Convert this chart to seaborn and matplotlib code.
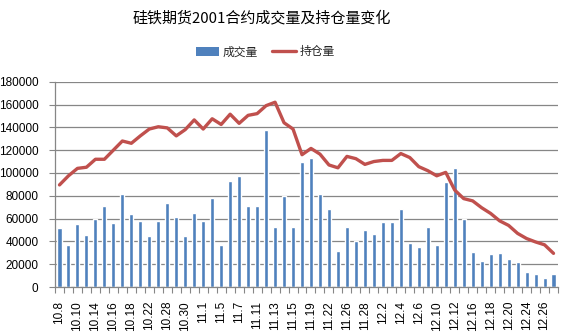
import numpy as np
import pandas as pd
import matplotlib
matplotlib.use("Agg")
import matplotlib.pyplot as plt
from matplotlib.patches import Patch
from matplotlib.lines import Line2D
import seaborn as sns

# Trading days of the 2001 ferrosilicon contract
dates = ["10.8", "10.9", "10.10", "10.11", "10.14", "10.15", "10.16", "10.17",
         "10.18", "10.21", "10.22", "10.24", "10.28", "10.29", "10.30", "10.31",
         "11.1", "11.4", "11.5", "11.6", "11.7", "11.8", "11.11", "11.12",
         "11.13", "11.14", "11.15", "11.18", "11.19", "11.21", "11.22", "11.25",
         "11.26", "11.27", "11.28", "11.29", "12.2", "12.3", "12.4", "12.5",
         "12.6", "12.9", "12.10", "12.11", "12.12", "12.13", "12.16", "12.17",
         "12.18", "12.19", "12.20", "12.23", "12.24", "12.25", "12.26", "12.27"]

# Daily trading volume (成交量)
volume = [52000, 37000, 55000, 46000, 59500, 71000, 56000, 81500,
          64000, 58000, 45000, 58000, 73500, 61500, 45000, 65000,
          58000, 78000, 37000, 93000, 97000, 71000, 71000, 137500,
          52500, 79500, 52500, 109500, 113000, 81500, 68500, 31500,
          52500, 40000, 50000, 46500, 57000, 57000, 68500, 38500,
          35000, 52500, 37000, 92000, 104500, 59500, 30500, 23000,
          29000, 30000, 24500, 22000, 13500, 11500, 8000, 11500]

# Open interest (持仓量)
open_interest = [89500, 97500, 104000, 105000, 112000, 112000, 120000, 128000,
                 126000, 132500, 138500, 140500, 139500, 132500, 138000, 146500,
                 138500, 147500, 142500, 151500, 143500, 150500, 152000, 159000,
                 162000, 144000, 138500, 116000, 121500, 116500, 107000, 104500,
                 114500, 112500, 107500, 110000, 111000, 111000, 117000, 113500,
                 105500, 102000, 97500, 100500, 85000, 77500, 75500, 69500,
                 64500, 58000, 54000, 47000, 42500, 39500, 37000, 29500]

ytick_values = list(range(0, 180001, 20000))

df = pd.DataFrame({"date": dates, "volume": volume, "oi": open_interest})

sns.set_theme(style="white")
plt.rcParams["font.family"] = ["Liberation Sans", "Noto Sans CJK SC", "DejaVu Sans"]

BLUE = "#4F81BD"
RED = "#C0504D"
GRAY = "#868686"

fig = plt.figure(figsize=(5.64, 3.34), dpi=100)
ax = fig.add_axes([55 / 564, 1 - 287 / 334, 503 / 564, (287 - 81.7) / 334])

sns.barplot(data=df, x="date", y="volume", order=dates, color=BLUE,
            saturation=1, width=0.45, ax=ax, zorder=2)
sns.lineplot(x=np.arange(len(dates)), y=df["oi"], sort=False, color=RED,
             linewidth=2.4, ax=ax, zorder=3)

ax.set_xlim(-0.5, len(dates) - 0.5)
ax.set_ylim(0, 180000)
ax.set_yticks(ytick_values)
ax.set_yticklabels([str(v) for v in ytick_values], fontsize=8.5, color="black")

pos = np.arange(len(dates))
ax.set_xticks(pos)
ax.set_xticklabels([d if i % 2 == 0 else "" for i, d in enumerate(dates)],
                   rotation=90, fontsize=8.5, color="black", va="top", ha="center")
ax.set_xticks(np.arange(-0.5, len(dates), 1), minor=True)
ax.tick_params(axis="x", which="major", length=0, pad=10)
ax.tick_params(axis="x", which="minor", length=4, color=GRAY, width=0.8,
               direction="out", bottom=True)
ax.tick_params(axis="y", which="major", length=4, color=GRAY, width=0.8,
               direction="out", left=True, pad=8)

ax.set_xlabel("")
ax.set_ylabel("")
ax.grid(axis="y", color=GRAY, linewidth=0.9, zorder=0)
ax.grid(axis="x", visible=False)
ax.set_axisbelow(True)
for side in ("top", "right"):
    ax.spines[side].set_visible(False)
for side in ("left", "bottom"):
    ax.spines[side].set_color(GRAY)
    ax.spines[side].set_linewidth(0.9)
if ax.get_legend() is not None:
    ax.get_legend().remove()

fig.text(262 / 564, 1 - 18 / 334, "硅铁期货2001合约成交量及持仓量变化",
         ha="center", va="center", fontsize=10.8, color="black",
         family=["Noto Sans CJK SC", "DejaVu Sans"])

handles = [Patch(facecolor=BLUE, edgecolor="none"),
           Line2D([0], [0], color=RED, linewidth=2.4)]
fig.legend(handles, ["成交量", "持仓量"], loc="center",
           bbox_to_anchor=(265 / 564, 1 - 52 / 334), ncol=2, frameon=False,
           prop={"family": ["Noto Sans CJK SC", "DejaVu Sans"], "size": 8.5},
           handlelength=2.0, handleheight=0.7, handletextpad=0.3,
           columnspacing=1.2)

fig.savefig("out.png", dpi=100)
